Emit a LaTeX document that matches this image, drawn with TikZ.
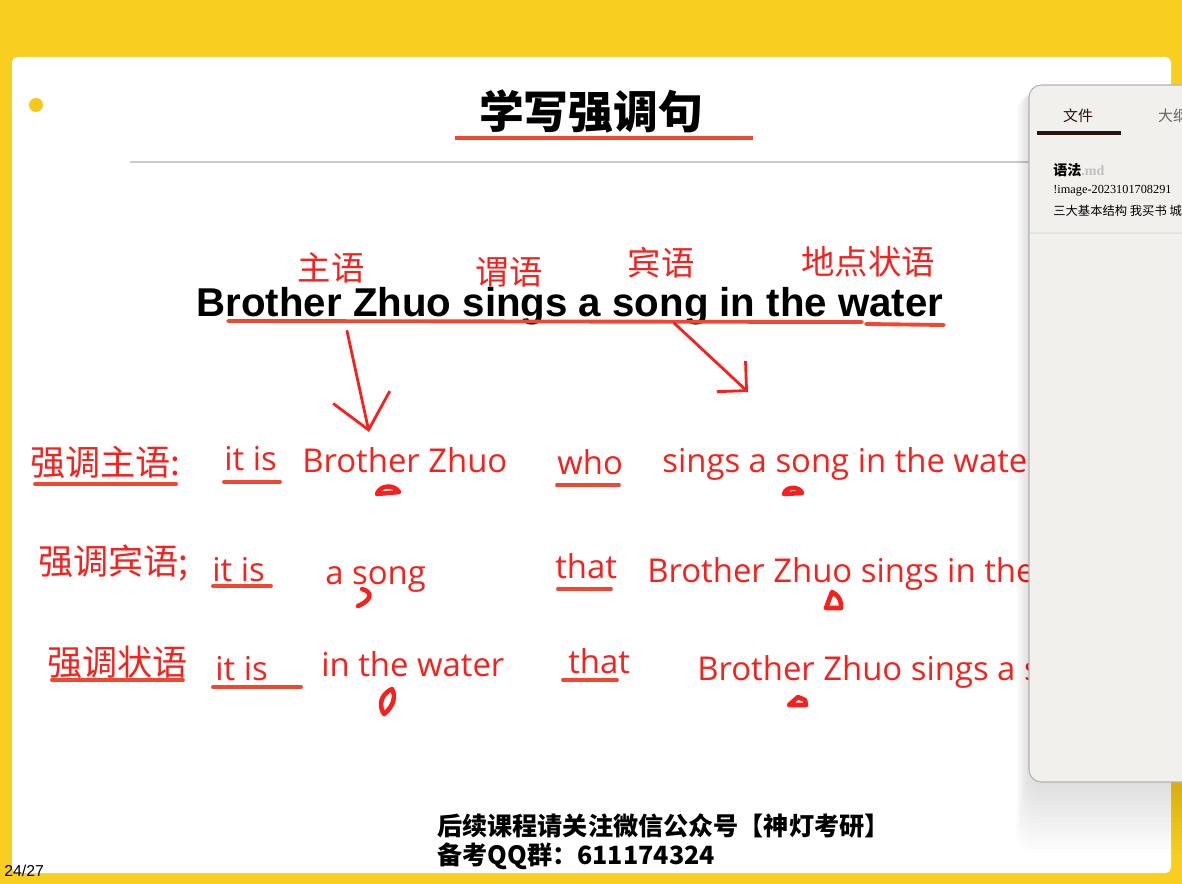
\documentclass[tikz,border=0pt]{standalone}
\usepackage{fontspec}
\setmainfont{Liberation Sans}
\newfontfamily\cjk{Noto Sans CJK SC}
\newfontfamily\handfont{Open Sans}
\newfontfamily\panelserif{Liberation Serif}
\usetikzlibrary{arrows.meta}

\definecolor{slideyellow}{RGB}{248,206,32}
\definecolor{inkred}{RGB}{246,32,28}
\definecolor{penred}{RGB}{240,72,48}
\definecolor{panelbg}{RGB}{242,240,237}
\definecolor{tabdark}{RGB}{42,18,14}

\begin{document}
\begin{tikzpicture}[x=0.02cm,y=-0.02cm,
  pen/.style={penred, line width=2.2pt, line cap=round, line join=round},
  blob/.style={inkred, line width=2.6pt, line cap=round, line join=round},
  redtxt/.style={inkred, inner sep=0pt, anchor=base west, font=\handfont\fontsize{18.7}{20}\selectfont},
  redcjk/.style={inkred, inner sep=0pt, anchor=base west, font=\cjk\fontsize{20}{22}\selectfont},
  tag/.style={inkred, inner sep=0pt, font=\cjk\fontsize{19}{21}\selectfont},
  handarrow/.style={inkred, line width=1.6pt, line cap=round}]
  \useasboundingbox (0,0) rectangle (1182,884);
  \clip (0,0) rectangle (1182,884);

  % slide
  \fill[slideyellow] (0,0) rectangle (1182,884);
  \fill[white, rounded corners=3] (12,57) rectangle (1171,873);
  \fill[slideyellow!90!orange] (36,105) circle (7);

  \node[font=\cjk\bfseries\fontsize{25.5}{30}\selectfont, inner sep=0pt] (title) at (591,112) {学写强调句};
  \draw[penred, line width=2.4pt] (455,138) -- (753,138);
  \draw[gray!40, line width=0.8pt] (130,162) -- (1060,162);

  % sentence and its parts
  \node[font=\bfseries\fontsize{22.9}{26}\selectfont, inner sep=0pt, anchor=base] (sentence) at (570,317) {Brother Zhuo sings a song in the water};
  \node[tag] (subj) at (331,268) {主语};
  \node[tag] (pred) at (509,272) {谓语};
  \node[tag] (obj) at (661,263) {宾语};
  \node[tag] (adv) at (868,262) {地点状语};
  \draw[pen] (228,321) -- (862,322);
  \draw[pen] (866,324) -- (944,325);

  % row 1
  \node[redcjk] (lab1) at (30,476) {强调主语:};
  \node[redtxt] (itis1) at (224,471) {it is};
  \node[redtxt] (bz1) at (302,473) {Brother Zhuo};
  \node[redtxt] (who) at (557,475) {who};
  \node[redtxt] (rest1) at (662,473) {sings a song in the water};
  \draw[pen] (35,484) -- (176,484);
  \draw[pen] (224,482) -- (280,482);
  \draw[pen] (557,485) -- (619,485);

  % row 2
  \node[redcjk] (lab2) at (38,574) {强调宾语;};
  \node[redtxt] (itis2) at (212,581) {it is};
  \node[redtxt] (song2) at (325,584) {a song};
  \node[redtxt] (that2) at (555,578) {that};
  \node[redtxt] (rest2) at (647,582) {Brother Zhuo sings in the water};
  \draw[pen] (213,586) -- (271,586);
  \draw[pen] (558,589) -- (611,589);

  % row 3
  \node[redcjk] (lab3) at (47,675) {强调状语};
  \node[redtxt] (itis3) at (215,680) {it is};
  \node[redtxt] (water3) at (321,676) {in the water};
  \node[redtxt] (that3) at (568,673) {that};
  \node[redtxt] (rest3) at (697,680) {Brother Zhuo sings a song in the water};
  \draw[pen] (52,680) -- (183,680);
  \draw[pen] (213,687) -- (301,687);
  \draw[pen] (563,680) -- (617,680);

  % arrows
  \coordinate (a1from) at (347,331);
  \coordinate (a1to) at (369,432);
  \coordinate (a2from) at (674,323);
  \coordinate (a2to) at (748,392);
  \draw[handarrow, -{Straight Barb[length=19pt,width=33pt,line width=1.6pt]}] (a1from) -- (a1to);
  \draw[handarrow, -{Straight Barb[length=12pt,width=24pt,line width=1.6pt]}] (a2from) -- (a2to);

  % marks
  \draw[blob] (377,494) .. controls (380,485) and (394,484) .. (399,492) -- cycle;
  \draw[blob] (784,494) .. controls (786,486) and (799,486) .. (802,493) -- cycle;
  \draw[blob] (362,589) .. controls (373,592) and (372,600) .. (358,606);
  \draw[blob] (826,608) -- (832,592) .. controls (840,596) and (842,604) .. (841,608) -- cycle;
  \draw[blob] (392,689) .. controls (378,696) and (380,708) .. (384,714) .. controls (394,706) and (396,696) .. (392,689);
  \draw[blob] (789,705) -- (798,697) -- (805,700) -- (806,705) -- cycle;

  % footer
  \node[font=\cjk\bfseries\fontsize{14.3}{16}\selectfont, inner sep=0pt, anchor=west] (follow) at (437,826) {后续课程请关注微信公众号【神灯考研】};
  \node[font=\cjk\bfseries\fontsize{14.3}{16}\selectfont, inner sep=0pt, anchor=west] (qq) at (437,856) {备考QQ群：611174324};
  \node[font=\fontsize{9}{10}\selectfont, inner sep=0pt, anchor=west] (page) at (4,871) {24/27};

  % side panel
  \foreach \d in {1,...,16}
    \fill[black, opacity=0.006, rounded corners=10] (1029-\d*0.8,85+\d*0.6) rectangle (1200,782+\d*4.5);
  \fill[panelbg, draw=gray!60, line width=0.6pt, rounded corners=7] (1029,85) rectangle (1200,782);
  \node[font=\cjk\fontsize{8.5}{10}\selectfont, tabdark] (files) at (1078,116) {文件};
  \node[font=\cjk\fontsize{8.5}{10}\selectfont, gray!80!black, anchor=west] (outline) at (1152,116) {大纲};
  \draw[tabdark, line width=1.8pt] (1037,133) -- (1121,133);
  \node[font=\cjk\bfseries\fontsize{8}{10}\selectfont, inner sep=0pt, anchor=west] (doc) at (1053,170) {语法\textcolor{gray!50}{\panelserif .md}};
  \node[font=\panelserif\fontsize{7}{8}\selectfont, inner sep=0pt, anchor=west] (img) at (1053,191) {!image-2023101708291};
  \node[font=\cjk\fontsize{7}{8}\selectfont, inner sep=0pt, anchor=west] (snip) at (1053,211) {三大基本结构 我买书 城};
  \draw[gray!20, line width=0.6pt] (1030,233) -- (1182,233);
\end{tikzpicture}
\end{document}
